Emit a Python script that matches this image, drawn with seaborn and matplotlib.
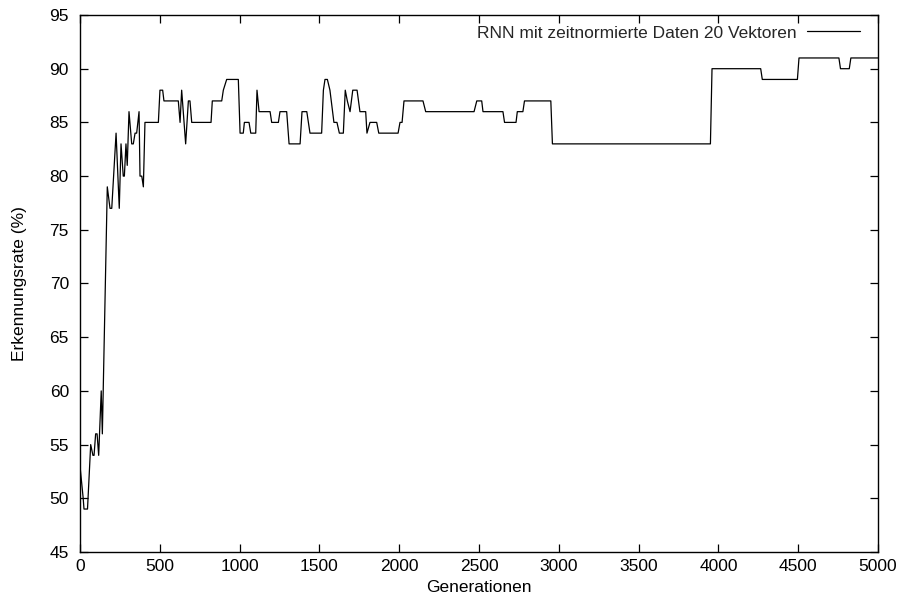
import matplotlib
matplotlib.use("Agg")
import matplotlib.pyplot as plt
import seaborn as sns
import pandas as pd

# Recognition rate of the RNN (time-normalised data, 20 vectors) over the generations
generations = [
    0, 20, 25, 47, 67, 81, 88, 98, 107, 117, 133, 140, 171, 188, 199, 226,
    246, 257, 271, 278, 288, 296, 307, 324, 334, 345, 355, 370, 376, 387,
    397, 407, 491, 501, 518, 526, 616, 627, 637, 662, 679, 689, 700, 821,
    829, 888, 898, 919, 992, 1003, 1023, 1030, 1059, 1070, 1101, 1109, 1122,
    1191, 1201, 1243, 1253, 1295, 1310, 1379, 1391, 1421, 1441, 1514, 1525,
    1535, 1550, 1566, 1591, 1610, 1625, 1650, 1662, 1675, 1692, 1709, 1736,
    1754, 1790, 1798, 1817, 1859, 1872, 1993, 2005, 2018, 2030, 2149, 2166,
    2469, 2486, 2517, 2525, 2650, 2660, 2732, 2740, 2775, 2785, 2950, 2960,
    3950, 3960, 4265, 4275, 4495, 4505, 4755, 4765, 4820, 4830, 5000,
]
rate = [
    53, 50, 49, 49, 55, 54, 54, 56, 56, 54, 60, 56, 79, 77, 77, 84,
    77, 83, 80, 80, 83, 81, 86, 83, 83, 84, 84, 86, 80, 80,
    79, 85, 85, 88, 88, 87, 87, 85, 88, 83, 87, 87, 85, 85,
    87, 87, 88, 89, 89, 84, 84, 85, 85, 84, 84, 88, 86,
    86, 85, 85, 86, 86, 83, 83, 86, 86, 84, 84, 88,
    89, 89, 88, 85, 85, 84, 84, 88, 87, 86, 88, 88,
    86, 86, 84, 85, 85, 84, 84, 85, 85, 87, 87, 86,
    86, 87, 87, 86, 86, 85, 85, 86, 86, 87, 87, 83,
    83, 90, 90, 89, 89, 91, 91, 90, 90, 91, 91,
]

x_ticks = [0, 500, 1000, 1500, 2000, 2500, 3000, 3500, 4000, 4500, 5000]
y_ticks = [45, 50, 55, 60, 65, 70, 75, 80, 85, 90, 95]
series_label = "RNN mit zeitnormierte Daten 20 Vektoren"

sns.set_theme(style="ticks")
plt.rcParams["font.family"] = ["Liberation Sans", "DejaVu Sans"]
plt.rcParams["font.size"] = 12.5

df = pd.DataFrame({"Generationen": generations, "Erkennungsrate": rate})

fig = plt.figure(figsize=(9.0, 5.95), dpi=100)
ax = fig.add_axes([80 / 900, 1 - 552 / 595, 798 / 900, 537 / 595])

sns.lineplot(data=df, x="Generationen", y="Erkennungsrate", ax=ax,
             color="black", linewidth=0.9, estimator=None, sort=False,
             label=series_label)

ax.set_xlim(0, 5000)
ax.set_ylim(45, 95)
ax.set_xticks(x_ticks)
ax.set_yticks(y_ticks)
ax.tick_params(axis="both", which="both", direction="in", length=6,
               width=0.9, color="black", labelsize=12.5, labelcolor="black",
               top=True, right=True)
ax.tick_params(axis="x", pad=5)
ax.tick_params(axis="y", pad=8)
for side in ax.spines.values():
    side.set_visible(True)
    side.set_color("black")
    side.set_linewidth(1.0)

ax.set_xlabel("Generationen", fontsize=12.5, color="black")
ax.set_ylabel("Erkennungsrate (%)", fontsize=12.5, color="black")
ax.xaxis.set_label_coords(0.5, -0.052)
ax.yaxis.set_label_coords(-0.067, 0.5)

leg = ax.legend(loc="upper right", frameon=False, markerfirst=False,
                handlelength=3.1, handletextpad=0.6, borderaxespad=0.3,
                borderpad=0.3, fontsize=12.5, bbox_to_anchor=(0.991, 1.0))

fig.savefig("out.png", dpi=100)
